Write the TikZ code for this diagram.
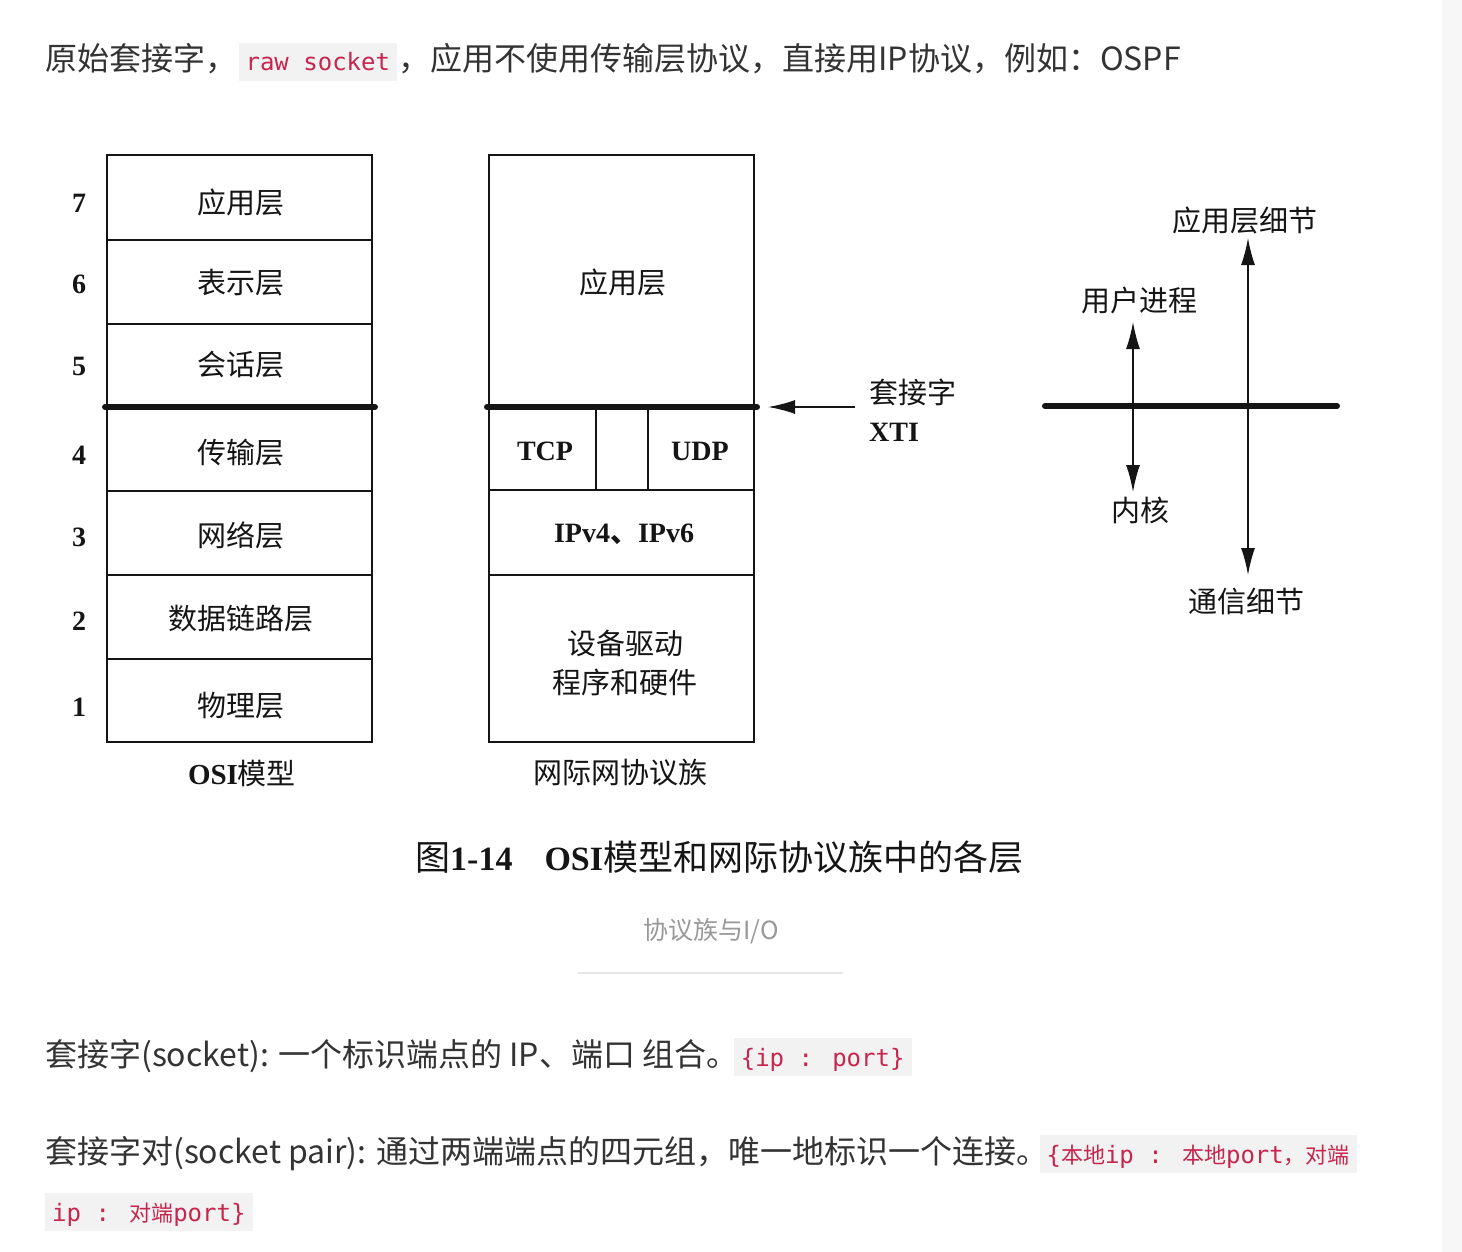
\documentclass[tikz,border=0pt]{standalone}
\usepackage{fontspec}
\setmainfont{Liberation Serif}
\newfontfamily\cjk{Noto Sans CJK SC}
\newfontfamily\bodyf{Noto Sans CJK SC}
\newfontfamily\monof{DejaVu Sans Mono}
\usetikzlibrary{arrows.meta}
\definecolor{txt}{HTML}{333333}
\definecolor{codered}{HTML}{C7254E}
\definecolor{codebg}{HTML}{F2F2F2}
\definecolor{figc}{HTML}{151515}
\definecolor{strip}{HTML}{F7F7F7}
\definecolor{capgray}{HTML}{999999}
\definecolor{rulegray}{HTML}{E6E6E6}
\newcommand{\cc}[1]{{\cjk\fontsize{22}{28}\selectfont #1}}
\begin{document}
\begin{tikzpicture}[x=1pt,y=-1pt,
  body/.style={font=\bodyf\fontsize{32}{38}\selectfont, text=txt, inner sep=0pt, anchor=base west},
  code/.style={font=\monof\fontsize{24}{28}\selectfont, text=codered, fill=codebg, inner xsep=7pt, inner ysep=0pt, text height=28pt, text depth=10pt, anchor=base west},
  fig/.style={draw=figc, line width=2.2pt},
  sep/.style={draw=figc, line width=6pt, line cap=round},
  lay/.style={font=\cjk\fontsize{29}{34}\selectfont, text=figc, inner sep=0pt, align=center},
  lat/.style={font=\bfseries\fontsize{28}{32}\selectfont, text=figc, inner sep=0pt},
  tip/.style={-{Latex[length=27pt,width=14pt]}},
  dtip/.style={{Latex[length=27pt,width=14pt]}-{Latex[length=27pt,width=14pt]}}
]
\useasboundingbox (0,0) rectangle (1462,1252);
\fill[white] (0,0) rectangle (1462,1252);
\fill[strip] (1442,0) rectangle (1462,1252);

% ---------- top paragraph ----------
\node[body] (t1) at (45,71) {原始套接字，};
\node[code] (t2) at ([xshift=1pt]t1.base east) {raw socket};
\node[body] (t3) at ([xshift=1pt]t2.base east) {，应用不使用传输层协议，直接用IP协议，例如：OSPF};

% ---------- OSI model ----------
\draw[fig] (107,155) rectangle (372,742);
\foreach \yy in {240,324,491,575,659} \draw[fig] (107,\yy) -- (372,\yy);
\draw[sep] (105,407) -- (375,407);
\node[lay] (o7) at (241,202) {应用层};
\node[lay] (o6) at (241,283) {表示层};
\node[lay] (o5) at (241,365) {会话层};
\node[lay] (o4) at (241,453) {传输层};
\node[lay] (o3) at (241,535) {网络层};
\node[lay] (o2) at (241,619) {数据链路层};
\node[lay] (o1) at (241,706) {物理层};
\node[lat] (n7) at (79,203) {7};
\node[lat] (n6) at (79,284) {6};
\node[lat] (n5) at (79,366) {5};
\node[lat] (n4) at (79,455) {4};
\node[lat] (n3) at (79,537) {3};
\node[lat] (n2) at (79,621) {2};
\node[lat] (n1) at (79,707) {1};
\node[lay] (osil) at (242,773) {{\rmfamily\bfseries OSI}模型};

% ---------- Internet protocol suite ----------
\draw[fig] (489,155) rectangle (754,742);
\draw[fig] (489,490) -- (754,490);
\draw[fig] (489,575) -- (754,575);
\draw[fig] (596,407) -- (596,490);
\draw[fig] (648,407) -- (648,490);
\draw[sep] (487,407) -- (757,407);
\node[lay] (ia) at (623,282) {应用层};
\node[lat] (itcp) at (545,451) {TCP};
\node[lat] (iudp) at (700,451) {UDP};
\node[lat] (iip) at (624,534) {IPv4{\cjk 、}IPv6};
\node[lay, font=\cjk\fontsize{29}{39}\selectfont] (idev) at (625,663) {设备驱动\\程序和硬件};
\node[lay] (isuite) at (620,773) {网际网协议族};

% ---------- socket / XTI arrow ----------
\coordinate (sockA) at (855,407);
\coordinate (sockB) at (768,407);
\draw[draw=figc, line width=2pt, tip] (sockA) -- (sockB);
\node[lay, anchor=west] (sockl) at (869,392) {套接字};
\node[lat, anchor=west] (xtil) at (869,432) {XTI};

% ---------- user / kernel diagram ----------
\coordinate (hL) at (1045,406);
\coordinate (hR) at (1337,406);
\draw[sep] (hL) -- (hR);
\coordinate (a1t) at (1133,322);
\coordinate (a1b) at (1133,492);
\draw[draw=figc, line width=1.6pt, dtip] (a1t) -- (a1b);
\coordinate (a2t) at (1248,238);
\coordinate (a2b) at (1248,575);
\draw[draw=figc, line width=1.6pt, dtip] (a2t) -- (a2b);
\node[lay] (up) at (1139,300) {用户进程};
\node[lay] (kern) at (1140,510) {内核};
\node[lay] (appd) at (1245,220) {应用层细节};
\node[lay] (comd) at (1246,601) {通信细节};

% ---------- figure caption ----------
\node[anchor=west, inner sep=0pt, text=figc, font=\cjk\fontsize{35}{40}\selectfont] (figcap) at (415,857)
  {图{\rmfamily\bfseries\fontsize{34}{38}\selectfont 1-14}\hspace{32pt}{\rmfamily\bfseries\fontsize{34}{38}\selectfont OSI}模型和网际协议族中的各层};

\node[font=\bodyf\fontsize{25}{30}\selectfont, text=capgray, inner sep=0pt] (cap2) at (711,931) {协议族与I/O};
\coordinate (ruleL) at (578,973);
\coordinate (ruleR) at (843,973);
\draw[draw=rulegray, line width=1.5pt] (ruleL) -- (ruleR);

% ---------- bottom paragraphs ----------
\node[body] (b1) at (45,1066) {套接字(socket): 一个标识端点的 IP、端口 组合。};
\node[code] (b2) at ([xshift=-5pt]b1.base east) {\{ip : port\}};

\node[body] (c1) at (45,1163) {套接字对(socket pair): 通过两端端点的四元组，唯一地标识一个连接。};
\node[code] (c2) at ([xshift=-9pt]c1.base east) {\{\cc{本地}ip : \cc{本地}port\cc{，对端}};
\node[code] (c3) at (45,1221) {ip : \cc{对端}port\}};
\end{tikzpicture}
\end{document}
